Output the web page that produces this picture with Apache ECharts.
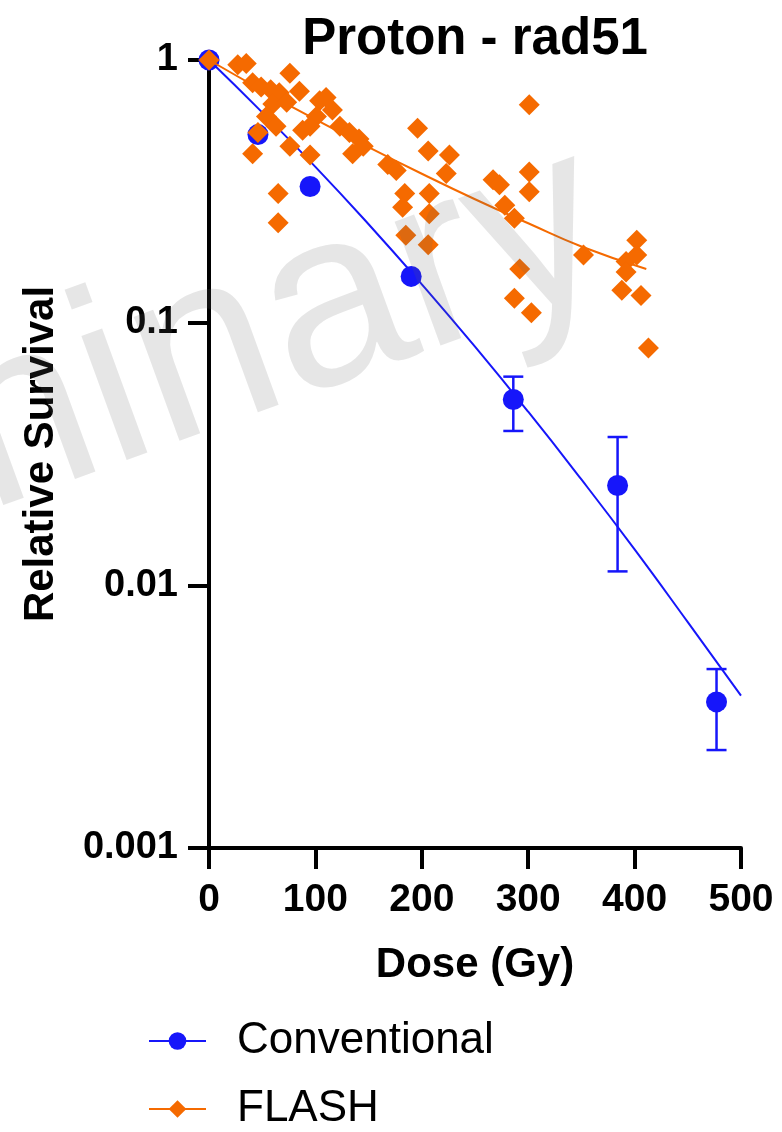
<!DOCTYPE html>
<html><head><meta charset="utf-8">
<script src="https://cdn.jsdelivr.net/npm/echarts@6/dist/echarts.min.js"></script>
<style>html,body{margin:0;padding:0;background:#fff}#c{width:782px;height:1132px}</style>
</head><body><div id="c"></div>
<script>
// ---- data ----
const xTicks = [0, 100, 200, 300, 400, 500];
const yTicks = [0.001, 0.01, 0.1, 1];
const yTickLabels = ['0.001', '0.01', '0.1', '1'];

const convDose = [0, 46, 95, 190, 286, 384, 477];
const convSurv = [1, 0.52, 0.33, 0.15, 0.051, 0.024, 0.0036];
const convErrDose = [286, 384, 477];
const convErrLow = [0.0387, 0.0113, 0.00236];
const convErrHigh = [0.0623, 0.0367, 0.0048];
const convFitDose = [0, 50, 100, 150, 200, 250, 300, 350, 400, 450, 500];
const convFitSurv = [1, 0.632, 0.392, 0.237, 0.140, 0.081, 0.0458, 0.0253, 0.0137, 0.00724, 0.0038];

const flashDose = [0, 27, 35, 41, 49, 58, 66, 76, 85, 60, 73, 54, 63, 46, 41, 76, 95, 88, 104, 110, 116, 101, 95, 123, 132, 141, 135, 145,
  65, 65, 168, 176, 196, 206, 226, 223, 184, 207, 182, 207, 185, 206, 267, 273, 301, 301, 301, 278, 287, 292, 287, 303,
  352, 402, 402, 392, 392, 388, 406, 413];
const flashSurv = [1, 0.96, 0.97, 0.82, 0.79, 0.77, 0.75, 0.89, 0.76, 0.68, 0.69, 0.61, 0.56, 0.53, 0.44, 0.47, 0.435, 0.54, 0.70, 0.72, 0.645, 0.61, 0.56, 0.56, 0.53, 0.50, 0.44, 0.47,
  0.31, 0.24, 0.40, 0.38, 0.55, 0.45, 0.435, 0.37, 0.31, 0.31, 0.275, 0.26, 0.215, 0.198, 0.35, 0.335, 0.675, 0.375, 0.315, 0.28, 0.25, 0.16, 0.124, 0.109,
  0.181, 0.206, 0.181, 0.171, 0.156, 0.133, 0.127, 0.080];
const flashFitDose = [0, 50, 100, 150, 200, 250, 300, 350, 411];
const flashFitSurv = [1, 0.767, 0.594, 0.466, 0.369, 0.295, 0.239, 0.195, 0.16];

const seriesNames = ['Conventional', 'FLASH'];
const titleText = 'Proton - rad51';
const xName = 'Dose (Gy)';
const yName = 'Relative Survival';
const watermark = 'Preliminary';

// ---- styling ----
const BLUE = '#1616FA';
const ORANGE = '#F56A00';
const FONT = '"Liberation Sans", Arial, sans-serif';

// watermark placement: right end of its baseline, angle and size
const WM_SIZE = 250, WM_ANGLE = 0.35, WM_END = [620, 280];
const wmFont = WM_SIZE + 'px "Liberation Sans", Arial, sans-serif';
const mctx = document.createElement('canvas').getContext('2d');
mctx.font = wmFont;
mctx.textBaseline = 'alphabetic';
const aAlpha = mctx.measureText('y').fontBoundingBoxAscent;
mctx.textBaseline = 'middle';
const aMiddle = mctx.measureText('y').fontBoundingBoxAscent;
const baseOff = (isFinite(aAlpha - aMiddle) ? (aAlpha - aMiddle) : 0.3465 * WM_SIZE);
const wmX = WM_END[0] - baseOff * Math.sin(WM_ANGLE);
const wmY = WM_END[1] - baseOff * Math.cos(WM_ANGLE);

const zip = (a, b) => a.map((v, i) => [v, b[i]]);

const chart = echarts.init(document.getElementById('c'), null, { renderer: 'canvas' });
chart.setOption({
  animation: false,
  backgroundColor: '#fff',
  textStyle: { fontFamily: FONT },
  title: {
    text: titleText, left: 475, top: 14, textAlign: 'center', padding: 0,
    textStyle: { fontSize: 51, fontWeight: 'bold', color: '#000', fontFamily: FONT }
  },
  grid: { left: 209, right: 41, top: 60, bottom: 284, containLabel: false },
  xAxis: {
    type: 'value', min: xTicks[0], max: xTicks[xTicks.length - 1], interval: 100,
    name: xName, nameLocation: 'middle', nameGap: 96,
    nameTextStyle: { fontSize: 42, fontWeight: 'bold', color: '#000', fontFamily: FONT },
    axisLine: { lineStyle: { color: '#000', width: 4 } },
    axisTick: { length: 21, lineStyle: { color: '#000', width: 4 } },
    axisLabel: { fontSize: 39, fontWeight: 'bold', color: '#000', margin: 33, fontFamily: FONT },
    splitLine: { show: false }
  },
  yAxis: {
    type: 'log', logBase: 10, min: yTicks[0], max: yTicks[yTicks.length - 1],
    name: yName, nameLocation: 'middle', nameGap: 147,
    nameTextStyle: { fontSize: 42, fontWeight: 'bold', color: '#000', fontFamily: FONT },
    axisLine: { show: true, lineStyle: { color: '#000', width: 4 } },
    axisTick: { show: true, length: 21, lineStyle: { color: '#000', width: 4 } },
    axisLabel: {
      fontSize: 38, fontWeight: 'bold', color: '#000', margin: 31, fontFamily: FONT,
      formatter: function (v) {
        let best = 0, d = Infinity;
        yTicks.forEach((t, i) => { const dd = Math.abs(Math.log10(t) - Math.log10(v)); if (dd < d) { d = dd; best = i; } });
        return yTickLabels[best];
      }
    },
    splitLine: { show: false }, minorTick: { show: false }
  },
  legend: {
    data: seriesNames, orient: 'vertical', left: 148, top: 1019, height: 200, padding: 0,
    itemWidth: 57, itemHeight: 22, itemGap: 24,
    textStyle: { fontSize: 44, lineHeight: 44, color: '#000', fontFamily: FONT, padding: [0, 0, 0, 26] }
  },
  graphic: [{
    type: 'text', z: 100, silent: true, x: wmX, y: wmY, rotation: WM_ANGLE,
    style: { text: watermark, font: wmFont, fill: 'rgba(100,100,100,0.16)', align: 'right', verticalAlign: 'middle' }
  }],
  series: [
    {
      name: seriesNames[0], type: 'line', data: zip(convFitDose, convFitSurv), smooth: true,
      symbol: 'circle', showSymbol: false, color: BLUE, lineStyle: { color: BLUE, width: 2 }, z: 2
    },
    {
      name: 'convErr', type: 'custom', data: convErrDose.map((d, i) => [d, convErrLow[i], convErrHigh[i]]),
      encode: { x: 0, y: [1, 2] }, z: 3,
      renderItem: function (params, api) {
        const x = api.value(0);
        const lo = api.coord([x, api.value(1)]);
        const hi = api.coord([x, api.value(2)]);
        const w = 10;
        const st = { stroke: BLUE, lineWidth: 2.5 };
        return {
          type: 'group', children: [
            { type: 'line', shape: { x1: lo[0], y1: lo[1], x2: hi[0], y2: hi[1] }, style: st },
            { type: 'line', shape: { x1: lo[0] - w, y1: lo[1], x2: lo[0] + w, y2: lo[1] }, style: st },
            { type: 'line', shape: { x1: hi[0] - w, y1: hi[1], x2: hi[0] + w, y2: hi[1] }, style: st }
          ]
        };
      }
    },
    {
      name: 'convPts', type: 'scatter', data: zip(convDose, convSurv), symbol: 'circle', symbolSize: 21,
      itemStyle: { color: BLUE, opacity: 1 }, z: 4
    },
    {
      name: seriesNames[1], type: 'line', data: zip(flashFitDose, flashFitSurv), smooth: true,
      symbol: 'diamond', showSymbol: false, color: ORANGE, lineStyle: { color: ORANGE, width: 2 }, z: 5
    },
    {
      name: 'flashPts', type: 'scatter', data: zip(flashDose, flashSurv), symbol: 'diamond', symbolSize: 21,
      itemStyle: { color: ORANGE, opacity: 1 }, z: 6
    }
  ]
});
</script>
</body></html>
